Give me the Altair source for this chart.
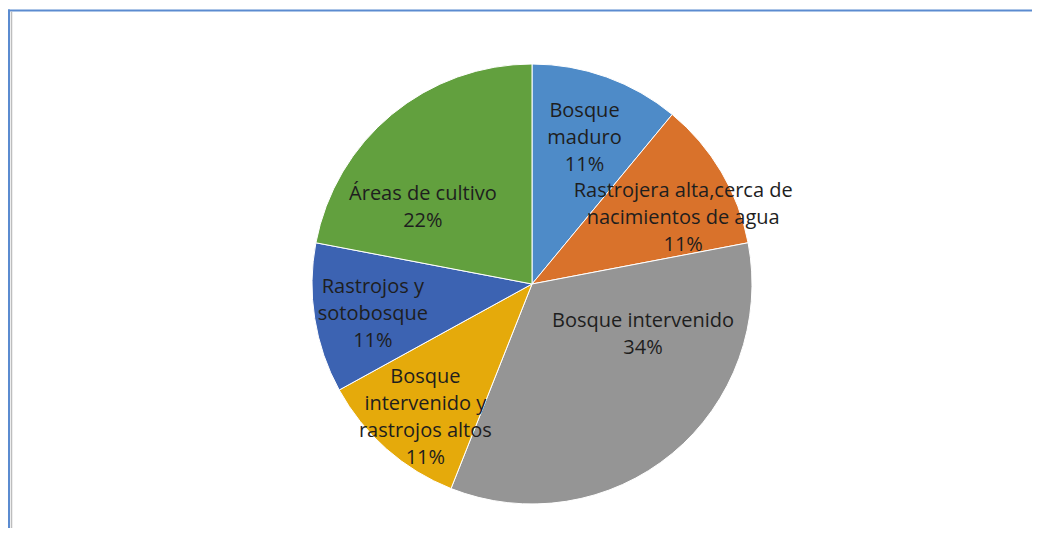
import altair as alt
import pandas as pd

# ---- data ----
categories = [
    "Bosque maduro",
    "Rastrojera alta,cerca de nacimientos de agua",
    "Bosque intervenido",
    "Bosque intervenido y rastrojos altos",
    "Rastrojos y sotobosque",
    "Áreas de cultivo",
]
label_lines = [
    "Bosque\nmaduro",
    "Rastrojera alta,cerca de\nnacimientos de agua",
    "Bosque intervenido",
    "Bosque\nintervenido y\nrastrojos altos",
    "Rastrojos y\nsotobosque",
    "Áreas de cultivo",
]
percent = [11, 11, 34, 11, 11, 22]
colors = ["#4E8BC8", "#D9722B", "#959595", "#E5AA0B", "#3C63B2", "#62A03E"]

labels = [f"{l}\n{p}%" for l, p in zip(label_lines, percent)]
df = pd.DataFrame({
    "cat": categories,
    "label": labels,
    "value": percent,
    "idx": list(range(len(categories))),
})

# ---- layout / style ----
W, H = 1024, 520
CX, CY = 524, 276
R = 220
LH = 27
# per-label (radius px, angle offset rad) for Excel-like "best fit" placement
label_style = [(155, 0.0), (165, 0.122), (122, -0.452), (171, -0.049), (162, -0.031), (133, -0.271)]

base = alt.Chart(df).encode(
    theta=alt.Theta("value:Q", stack=True),
    order=alt.Order("idx:Q"),
    x=alt.value(CX),
    y=alt.value(CY),
)

pie = base.mark_arc(outerRadius=R, stroke="white", strokeWidth=1).encode(
    color=alt.Color("cat:N", scale=alt.Scale(domain=categories, range=colors), legend=None)
)

texts = []
for i, (r, t) in enumerate(label_style):
    n = labels[i].count("\n") + 1
    texts.append(
        base.mark_text(
            radius=r, thetaOffset=t, dy=-(n - 1) / 2 * LH, font="Open Sans", fontSize=20,
            lineBreak="\n", lineHeight=LH, color="#1E1E1E", align="center", baseline="middle",
        ).encode(
            text=alt.condition(f"datum.idx == {i}", alt.Text("label:N"), alt.value(""))
        )
    )

one = pd.DataFrame({"k": [0]})
frame_top = alt.Chart(one).mark_rule(color="#5B8BD0", strokeWidth=2).encode(
    x=alt.value(0), x2=alt.value(W), y=alt.value(2.5)
)
frame_left = alt.Chart(one).mark_rule(color="#5B8BD0", strokeWidth=2).encode(
    x=alt.value(1), y=alt.value(1.5), y2=alt.value(H)
)
frame_inner = alt.Chart(one).mark_rule(color="#BDBDBD", strokeWidth=1.5).encode(
    x=alt.value(3.5), y=alt.value(3.5), y2=alt.value(H)
)

chart = alt.layer(pie, *texts, frame_top, frame_left, frame_inner).properties(
    width=W, height=H, padding=0, autosize="none"
).configure_view(stroke="transparent")

chart.save("out.html", embed_options={"renderer": "svg", "actions": False})
